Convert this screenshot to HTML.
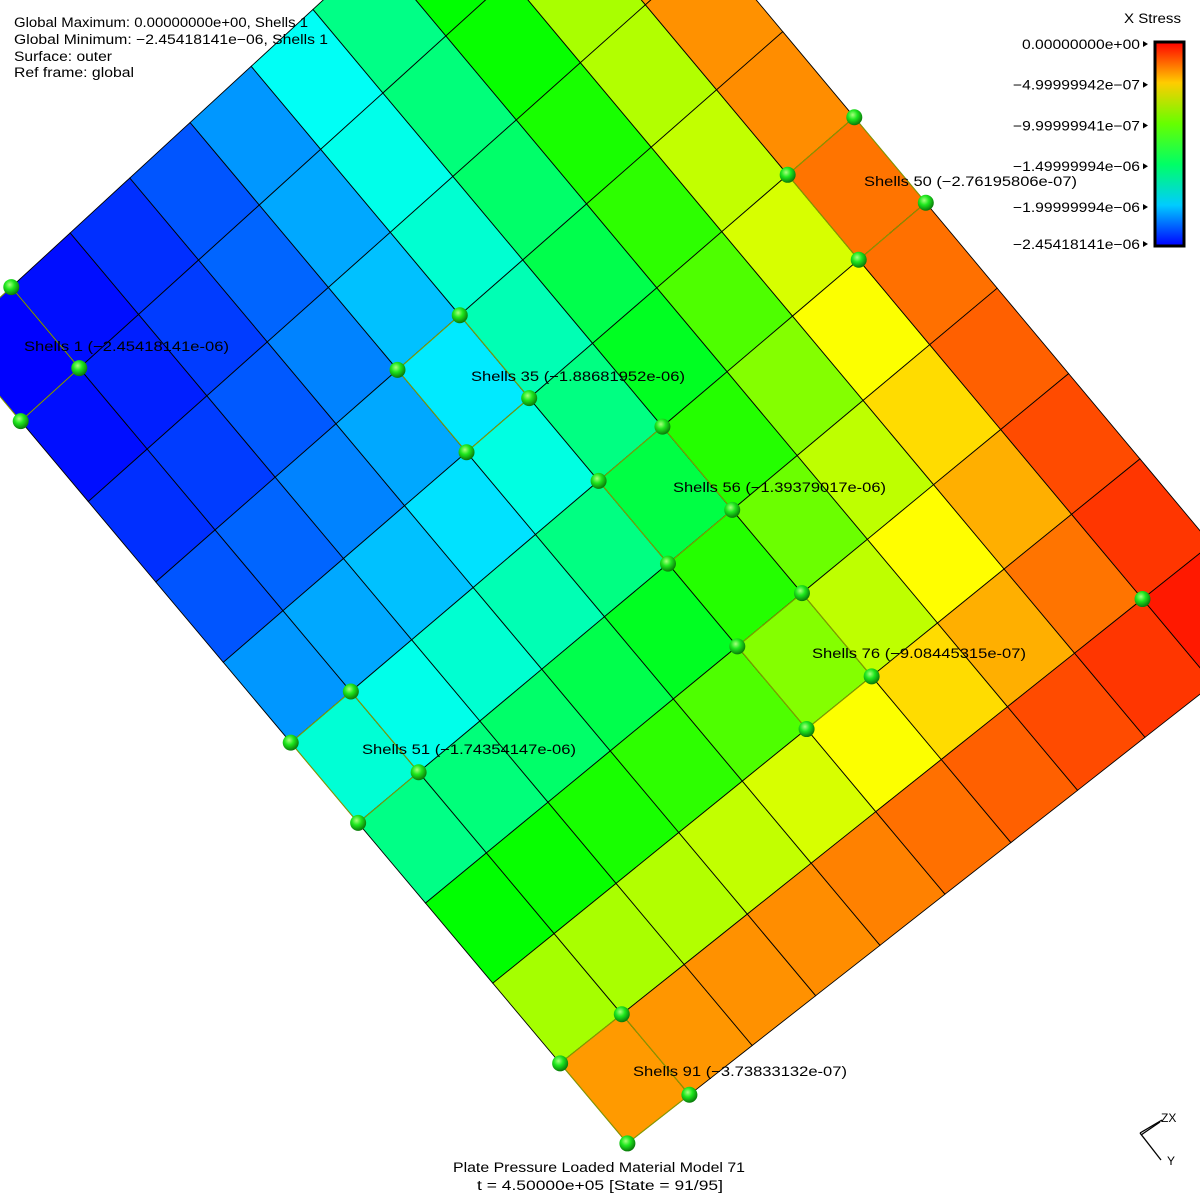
<!DOCTYPE html>
<html><head><meta charset="utf-8"><style>
html,body{margin:0;padding:0;background:#fff;}
svg{display:block;}
text{font-family:"Liberation Sans",sans-serif;font-size:13.5px;fill:#000;}
</style></head><body>
<svg id="chart" width="1200" height="1200" viewBox="0 0 1200 1200" xmlns="http://www.w3.org/2000/svg">
<defs>
<radialGradient id="ball" cx="40%" cy="35%" r="65%">
<stop offset="0" stop-color="#a8ff80"/><stop offset="0.45" stop-color="#1ee81e"/><stop offset="1" stop-color="#0a7a0a"/>
</radialGradient>
<linearGradient id="cbar" x1="0" y1="0" x2="0" y2="1">
<stop offset="0" stop-color="hsl(0,100%,50%)"/><stop offset="0.2" stop-color="hsl(48,100%,50%)"/>
<stop offset="0.4" stop-color="hsl(96,100%,50%)"/><stop offset="0.6" stop-color="hsl(144,100%,50%)"/>
<stop offset="0.8" stop-color="hsl(192,100%,50%)"/><stop offset="1" stop-color="hsl(240,100%,50%)"/>
</linearGradient>
</defs>
<g id="cells"></g>
<g id="nodes"></g>
<g id="labels"></g>
<g>
<text x="14" y="27" textLength="294" lengthAdjust="spacingAndGlyphs">Global Maximum: 0.00000000e+00, Shells 1</text>
<text x="14" y="44" textLength="314" lengthAdjust="spacingAndGlyphs">Global Minimum: −2.45418141e−06, Shells 1</text>
<text x="14" y="61" textLength="98" lengthAdjust="spacingAndGlyphs">Surface: outer</text>
<text x="14" y="77" textLength="120" lengthAdjust="spacingAndGlyphs">Ref frame: global</text>
</g>
<g>
<text x="1124" y="23" textLength="57" lengthAdjust="spacingAndGlyphs">X Stress</text>
<rect x="1155" y="42" width="29" height="204" fill="url(#cbar)" stroke="#000" stroke-width="3"/>
<g id="cbticks"></g>
</g>
<g>
<text x="453" y="1172" textLength="292" lengthAdjust="spacingAndGlyphs">Plate Pressure Loaded  Material Model 71</text>
<text x="477" y="1190" textLength="246" lengthAdjust="spacingAndGlyphs">t = 4.50000e+05 [State = 91/95]</text>
</g>
<g stroke="#000" stroke-width="1.3" fill="none">
<line x1="1140" y1="1133" x2="1162" y2="1120"/>
<line x1="1141" y1="1135" x2="1160" y2="1122"/>
<line x1="1140" y1="1133" x2="1161" y2="1160"/>
</g>
<text x="1161" y="1122" style="font-size:12px">ZX</text>
<text x="1167" y="1165" style="font-size:12px">Y</text>
</svg>
<script>
// X stress per element (units of 1e-6, negative), row r = shells 10r+1..10r+10
const stressRow0 = [2.45,2.42,2.34,2.25,2.09,1.82,1.55,1.23,0.83,0.37];
const stressRow1 = [2.42,2.38,2.31,2.21,2.05,1.79,1.52,1.21,0.82,0.36];
const stressRow2 = [2.34,2.31,2.24,2.14,1.99,1.73,1.48,1.17,0.80,0.35];
const stressRow3 = [2.25,2.21,2.14,2.05,1.89,1.66,1.41,1.12,0.76,0.34];
const stressRow4 = [2.09,2.05,1.99,1.91,1.77,1.54,1.31,1.04,0.71,0.28];
const stressRow5 = [1.74,1.79,1.73,1.66,1.54,1.39,1.14,0.91,0.62,0.27];
const stressRow6 = [1.55,1.52,1.48,1.41,1.31,1.14,0.97,0.77,0.53,0.23];
const stressRow7 = [1.23,1.21,1.17,1.12,1.04,0.91,0.77,0.61,0.42,0.18];
const stressRow8 = [0.83,0.82,0.80,0.76,0.71,0.62,0.53,0.42,0.28,0.13];
const stressRow9 = [0.37,0.36,0.35,0.34,0.31,0.27,0.23,0.18,0.13,0.06];
const labeledShells = [1,35,56,76,51,91,50];
const labeledValues = ["−2.45418141e-06","−1.88681952e-06","−1.39379017e-06","−9.08445315e-07","−1.74354147e-06","−3.73833132e-07","−2.76195806e-07"];
const tickValues = [0,0.5,1.0,1.5,2.0,2.45418141];
const tickLabels = ["0.00000000e+00","−4.99999942e−07","−9.99999941e−07","−1.49999994e−06","−1.99999994e−06","−2.45418141e−06"];
const vMax = 2.45418141;

const rows=[stressRow0,stressRow1,stressRow2,stressRow3,stressRow4,stressRow5,stressRow6,stressRow7,stressRow8,stressRow9];
const NS="http://www.w3.org/2000/svg";
const calib=[[0,0,628,1143],[1,0,560,1063],[1,1,622,1015],[0,1,690,1095],[2,5,805,729],[3,5,738,647],[2,6,872,676],[3,6,802,593],
[4,5,668,564],[5,5,598,481],[4,6,732,510],[5,6,662,427],[6,4,466,452],[7,4,398,370],[6,5,529,398],[7,5,459,315],
[4,0,358,823],[5,0,290,742],[4,1,420,773],[5,1,350,691],[9,0,20,421],[9,1,80,368],[10,1,12,287],
[5,9,858,260],[5,10,927,203],[6,9,788,175],[6,10,855,117],[1,9,1142,598]];
function solve(A,b){const n=b.length;for(let i=0;i<n;i++){let p=i;for(let k=i+1;k<n;k++)if(Math.abs(A[k][i])>Math.abs(A[p][i]))p=k;
[A[i],A[p]]=[A[p],A[i]];[b[i],b[p]]=[b[p],b[i]];for(let k=i+1;k<n;k++){const f=A[k][i]/A[i][i];for(let j=i;j<n;j++)A[k][j]-=f*A[i][j];b[k]-=f*b[i];}}
const x=new Array(n).fill(0);for(let i=n-1;i>=0;i--){let s=b[i];for(let j=i+1;j<n;j++)s-=A[i][j]*x[j];x[i]=s/A[i][i];}return x;}
const M=[...Array(8)].map(()=>new Array(8).fill(0)),R=new Array(8).fill(0);
calib.forEach(([u,v,X,Y])=>{const r1=[u,v,1,0,0,0,-u*X,-v*X],r2=[0,0,0,u,v,1,-u*Y,-v*Y];
[[r1,X],[r2,Y]].forEach(([r,t])=>{for(let i=0;i<8;i++){R[i]+=r[i]*t;for(let j=0;j<8;j++)M[i][j]+=r[i]*r[j];}});});
const H=solve(M,R);
function P(i,j){const w=H[6]*i+H[7]*j+1;return [(H[0]*i+H[1]*j+H[2])/w,(H[3]*i+H[4]*j+H[5])/w];}
function colorOf(v){return `hsl(${240*v/vMax},100%,50%)`;}
const cells=document.getElementById('cells');
const hl=[];
for(let r=0;r<10;r++)for(let c=0;c<10;c++){
  const i0=9-r,j0=c;
  const pts=[P(i0,j0),P(i0,j0+1),P(i0+1,j0+1),P(i0+1,j0)];
  const el=document.createElementNS(NS,'polygon');
  el.setAttribute('points',pts.map(p=>p[0].toFixed(1)+','+p[1].toFixed(1)).join(' '));
  el.setAttribute('fill',colorOf(rows[r][c]));
  el.setAttribute('stroke','#000');el.setAttribute('stroke-width','0.9');
  
  
  cells.appendChild(el);
  if(labeledShells.includes(r*10+c+1))hl.push(pts);
}
hl.forEach(pts=>{const el=document.createElementNS(NS,'polygon');
  el.setAttribute('points',pts.map(p=>p.join(',')).join(' '));el.setAttribute('fill','none');
  el.setAttribute('stroke','#8aa000');el.setAttribute('stroke-width','1');
  
  
  cells.appendChild(el);});
const nodes=document.getElementById('nodes');
const nodeSet=[];hl.forEach(p=>p.forEach(q=>nodeSet.push(q)));nodeSet.push(P(1,9));
nodeSet.forEach(q=>{const el=document.createElementNS(NS,'circle');
  el.setAttribute('cx',q[0]);el.setAttribute('cy',q[1]);el.setAttribute('r','8');el.setAttribute('fill','url(#ball)');
  
  
  nodes.appendChild(el);});
const labelPos={1:[24,351,205],35:[471,381,214],56:[673,492,213],76:[812,658,214],51:[362,754,214],91:[633,1076,214],50:[864,186,213]};
const labels=document.getElementById('labels');
labeledShells.forEach((s,k)=>{const lp=labelPos[s];const t=document.createElementNS(NS,'text');
  t.setAttribute('x',lp[0]);t.setAttribute('y',lp[1]);t.setAttribute('textLength',lp[2]);t.setAttribute('lengthAdjust','spacingAndGlyphs');
  t.textContent='Shells '+s+' ('+labeledValues[k]+')';
  
  
  labels.appendChild(t);});
const cb=document.getElementById('cbticks');
tickValues.forEach((v,k)=>{const y=44+200*v/vMax;
  const t=document.createElementNS(NS,'text');t.setAttribute('x',1140);t.setAttribute('y',y+5);t.setAttribute('text-anchor','end');
  t.setAttribute('textLength',k===0?118:127);t.setAttribute('lengthAdjust','spacingAndGlyphs');
  t.textContent=tickLabels[k];
  
  
  cb.appendChild(t);
  const m=document.createElementNS(NS,'polygon');m.setAttribute('points',`1143,${y-3} 1148,${y} 1143,${y+3}`);m.setAttribute('fill','#000');
  
  
  cb.appendChild(m);});
</script>
</body></html>
